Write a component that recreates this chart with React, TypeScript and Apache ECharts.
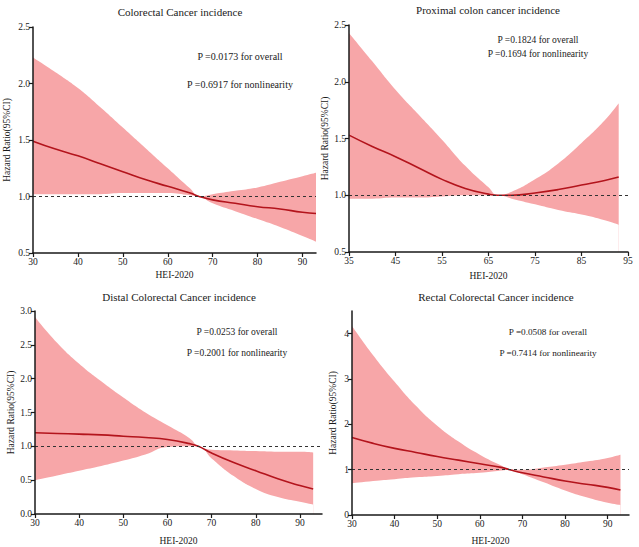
import React, { useEffect, useRef } from "react";
import * as echarts from "echarts";

const titles = [
  "Colorectal Cancer incidence",
  "Proximal colon cancer incidence",
  "Distal Colorectal Cancer incidence",
  "Rectal Colorectal Cancer incidence",
];
const pOverall = ["P =0.0173 for overall", "P =0.1824 for overall", "P =0.0253 for overall", "P =0.0508 for overall"];
const pNonlin = ["P =0.6917 for nonlinearity", "P =0.1694 for nonlinearity", "P =0.2001 for nonlinearity", "P =0.7414 for nonlinearity"];

const xA = [30, 35, 40, 45, 50, 55, 60, 65, 67, 70, 75, 80, 85, 90, 93];
const xB = [35, 40, 45, 50, 55, 60, 65, 67, 70, 75, 80, 85, 90, 93];

const hr1 = [1.49, 1.42, 1.36, 1.29, 1.22, 1.15, 1.09, 1.03, 1.0, 0.97, 0.94, 0.91, 0.89, 0.86, 0.85];
const up1 = [2.23, 2.1, 1.96, 1.79, 1.61, 1.43, 1.25, 1.07, 1.0, 1.02, 1.05, 1.08, 1.13, 1.18, 1.21];
const lo1 = [1.02, 1.02, 1.02, 1.02, 1.03, 1.03, 1.03, 1.01, 1.0, 0.94, 0.87, 0.8, 0.73, 0.65, 0.6];

const hr2 = [1.53, 1.43, 1.34, 1.24, 1.14, 1.06, 1.01, 1.0, 1.0, 1.02, 1.05, 1.09, 1.13, 1.16];
const up2 = [2.43, 2.18, 1.93, 1.71, 1.49, 1.26, 1.07, 1.0, 1.03, 1.14, 1.28, 1.46, 1.66, 1.81];
const lo2 = [0.97, 0.97, 0.98, 0.98, 0.99, 1.0, 1.0, 1.0, 0.97, 0.92, 0.87, 0.83, 0.78, 0.74];

const hr3 = [1.2, 1.19, 1.18, 1.17, 1.15, 1.13, 1.1, 1.04, 1.0, 0.9, 0.76, 0.64, 0.52, 0.42, 0.37];
const up3 = [2.91, 2.53, 2.22, 1.96, 1.72, 1.5, 1.31, 1.12, 1.0, 0.95, 0.94, 0.93, 0.92, 0.92, 0.91];
const lo3 = [0.5, 0.57, 0.64, 0.71, 0.79, 0.88, 0.99, 1.0, 1.0, 0.82, 0.56, 0.37, 0.25, 0.18, 0.14];

const hr4 = [1.71, 1.58, 1.47, 1.38, 1.29, 1.21, 1.13, 1.05, 1.0, 0.93, 0.84, 0.75, 0.68, 0.61, 0.55];
const up4 = [4.17, 3.52, 2.94, 2.41, 1.97, 1.62, 1.33, 1.09, 1.0, 1.0, 1.05, 1.11, 1.18, 1.26, 1.33];
const lo4 = [0.7, 0.75, 0.79, 0.83, 0.86, 0.9, 0.93, 0.98, 1.0, 0.9, 0.72, 0.54, 0.39, 0.27, 0.22];

const xTicks13 = [30, 40, 50, 60, 70, 80, 90];
const xTicks2 = [35, 45, 55, 65, 75, 85, 95];
const yTicks4 = [0, 1, 2, 3, 4];

const FONT = "Liberation Serif";
const LINE = "#b3141c";
const BAND = "#f7a6a8";
const INK = "#1a1a1a";

const panels = [
  { xs: xA, hr: hr1, up: up1, lo: lo1, grid: { left: 33, top: 27, width: 283, height: 226 }, xMin: 30, xMax: 93, xTicks: xTicks13, yMin: 0.5, yMax: 2.5, yInt: 0.5, yTicks: null as number[] | null, dec: 1, xName: "HEI-2020" },
  { xs: xB, hr: hr2, up: up2, lo: lo2, grid: { left: 349, top: 25, width: 279, height: 227 }, xMin: 35, xMax: 95, xTicks: xTicks2, yMin: 0.5, yMax: 2.5, yInt: 0.5, yTicks: null, dec: 1, xName: "HEI-2020" },
  { xs: xA, hr: hr3, up: up3, lo: lo3, grid: { left: 35, top: 311, width: 287, height: 208 }, xMin: 30, xMax: 95, xTicks: xTicks13, yMin: 0, yMax: 3, yInt: 0.5, yTicks: null, dec: 1, xName: "HEI-2020" },
  { xs: xA, hr: hr4, up: up4, lo: lo4, grid: { left: 352, top: 311, width: 277, height: 209 }, xMin: 30, xMax: 95, xTicks: xTicks13, yMin: 0, yMax: 4.5, yInt: 1, yTicks: yTicks4, dec: 0, xName: "HEI-2020" },
];

const titlePos = [
  { x: 180, y: 12 },
  { x: 488, y: 10 },
  { x: 179, y: 297 },
  { x: 496, y: 297 },
];
const pPos = [
  { x: 240, y1: 56, y2: 84, fs: 10 },
  { x: 538, y1: 40, y2: 54, fs: 9.5 },
  { x: 237, y1: 332, y2: 353, fs: 9.5 },
  { x: 548, y1: 332, y2: 353, fs: 9.2 },
];
const yNameGap = [21, 19, 19, 14];
const xNameGap = [17, 19, 22, 21];

export default function App() {
  const ref = useRef<HTMLDivElement>(null);
  useEffect(() => {
    if (!ref.current) return;
    const chart = echarts.init(ref.current, null, { renderer: "svg" });
    const grids: any[] = [];
    const xAxes: any[] = [];
    const yAxes: any[] = [];
    const series: any[] = [];
    const graphics: any[] = [];
    panels.forEach((p, i) => {
      grids.push({ ...p.grid });
      xAxes.push({
        type: "value",
        gridIndex: i,
        min: p.xMin,
        max: p.xMax,
        interval: 10,
        name: p.xName,
        nameLocation: "middle",
        nameGap: xNameGap[i],
        nameTextStyle: { fontFamily: FONT, fontSize: 9.5, color: INK },
        axisLine: { show: true, onZero: false, lineStyle: { color: INK, width: 1.5 } },
        axisTick: { show: true, length: 4, customValues: p.xTicks, lineStyle: { color: INK, width: 1.2 } },
        axisLabel: { customValues: p.xTicks, fontFamily: FONT, fontSize: 9.5, color: INK, margin: 4 },
        splitLine: { show: false },
        z: 5,
      });
      const yAxis: any = {
        type: "value",
        gridIndex: i,
        min: p.yMin,
        max: p.yMax,
        interval: p.yInt,
        name: "Hazard Ratio(95%CI)",
        nameLocation: "middle",
        nameGap: yNameGap[i],
        nameTextStyle: { fontFamily: FONT, fontSize: 9.5, color: INK },
        axisLine: { show: true, onZero: false, lineStyle: { color: INK, width: 1.5 } },
        axisTick: { show: true, length: 4, lineStyle: { color: INK, width: 1.2 } },
        axisLabel: {
          fontFamily: FONT,
          fontSize: 9.5,
          color: INK,
          margin: 3,
          formatter: (v: number) => v.toFixed(p.dec),
        },
        splitLine: { show: false },
        z: 5,
      };
      if (p.yTicks) {
        yAxis.axisTick.customValues = p.yTicks;
        yAxis.axisLabel.customValues = p.yTicks;
      }
      yAxes.push(yAxis);
      // upper bound filled with band colour down to the axis
      series.push({
        type: "line",
        xAxisIndex: i,
        yAxisIndex: i,
        smooth: true,
        symbol: "none",
        lineStyle: { width: 0, opacity: 0 },
        areaStyle: { color: BAND, opacity: 1, origin: "start" },
        data: p.xs.map((x, k) => [x, p.up[k]]),
        z: 0,
      });
      // lower bound masks everything below it in white
      series.push({
        type: "line",
        xAxisIndex: i,
        yAxisIndex: i,
        smooth: true,
        symbol: "none",
        lineStyle: { width: 0, opacity: 0 },
        areaStyle: { color: "#ffffff", opacity: 1, origin: "start" },
        data: p.xs.map((x, k) => [x, p.lo[k]]),
        z: 1,
      });
      series.push({
        type: "line",
        xAxisIndex: i,
        yAxisIndex: i,
        smooth: true,
        symbol: "none",
        lineStyle: { color: LINE, width: 1.6 },
        data: p.xs.map((x, k) => [x, p.hr[k]]),
        z: 3,
        markLine: {
          silent: true,
          symbol: "none",
          label: { show: false },
          lineStyle: { color: "#333", type: [3, 3], width: 1.2 },
          data: [{ yAxis: 1 }],
        },
      });
      graphics.push({
        type: "text",
        x: titlePos[i].x,
        y: titlePos[i].y,
        z: 100,
        style: { text: titles[i], fontFamily: FONT, fontSize: 11, fill: INK, align: "center", verticalAlign: "middle" },
      });
      graphics.push({
        type: "text",
        x: pPos[i].x,
        y: pPos[i].y1,
        z: 100,
        style: { text: pOverall[i], fontFamily: FONT, fontSize: pPos[i].fs, fill: INK, align: "center", verticalAlign: "middle" },
      });
      graphics.push({
        type: "text",
        x: pPos[i].x,
        y: pPos[i].y2,
        z: 100,
        style: { text: pNonlin[i], fontFamily: FONT, fontSize: pPos[i].fs, fill: INK, align: "center", verticalAlign: "middle" },
      });
    });
    chart.setOption({
      animation: false,
      backgroundColor: "#ffffff",
      grid: grids,
      xAxis: xAxes,
      yAxis: yAxes,
      series,
      graphic: graphics,
    });
    return () => chart.dispose();
  }, []);
  return <div ref={ref} style={{ position: "fixed", left: 0, top: 0, width: 639, height: 547 }} />;
}
